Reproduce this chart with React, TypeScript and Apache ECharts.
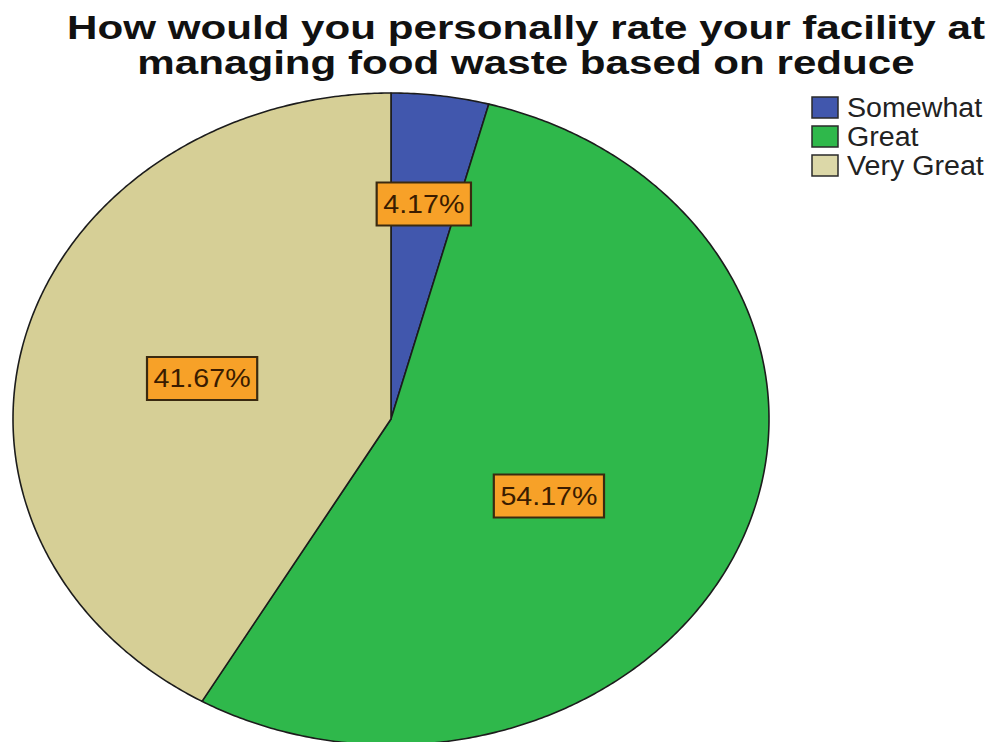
import React, { useEffect, useRef } from "react";
import * as echarts from "echarts";

const TITLE_LINES = [
  "How would you personally rate your facility at",
  "managing food waste based on reduce",
];
const CATEGORIES = ["Somewhat", "Great", "Very Great"];
const COUNTS = [1, 13, 10];
const COLORS = ["#4157ad", "#2fb84b", "#d6cf96"];
const LEGEND_COLORS = ["#4157ad", "#2fb84b", "#dcd8a8"];

// layout constants (ellipse geometry and label placement)
const CX = 391;
const CY = 419;
const RX = 378;
const RY = 326;
const LABEL_PLACEMENT = [
  { f: 0.665, dt: 0 },
  { f: 0.48, dt: 7 },
  { f: 0.515, dt: -1 },
];

export default function App() {
  const ref = useRef<HTMLDivElement>(null);
  useEffect(() => {
    if (!ref.current) return;
    const chart = echarts.init(ref.current, undefined, { renderer: "svg" });
    const total = COUNTS.reduce((a, b) => a + b, 0);
    const starts: number[] = [];
    let acc = 0;
    COUNTS.forEach((c) => {
      starts.push(acc);
      acc += c;
    });
    const pt = (tDeg: number, f = 1) => {
      const t = (tDeg * Math.PI) / 180;
      return [CX + f * RX * Math.sin(t), CY - f * RY * Math.cos(t)];
    };

    const legendGraphics: any[] = [];
    CATEGORIES.forEach((name, i) => {
      const y = 97 + i * 29;
      legendGraphics.push({
        type: "rect",
        shape: { x: 812, y, width: 26, height: 21 },
        style: { fill: LEGEND_COLORS[i], stroke: "#2a2a2a", lineWidth: 1.5 },
      });
      legendGraphics.push({
        type: "text",
        x: 847,
        y: y + 11,
        scaleX: 1.06,
        style: {
          text: name,
          fontFamily: "Liberation Sans, Arial, sans-serif",
          fontSize: 27,
          fill: "#222",
          align: "left",
          verticalAlign: "middle",
        },
      });
    });

    chart.setOption({
      animation: false,
      backgroundColor: "#ffffff",
      graphic: [
        {
          type: "text",
          x: 526,
          y: 10,
          scaleX: 1.24,
          style: {
            text: TITLE_LINES.join("\n"),
            fontFamily: "Liberation Sans, Arial, sans-serif",
            fontWeight: "bold",
            fontSize: 34,
            lineHeight: 35,
            fill: "#111",
            align: "center",
            verticalAlign: "top",
          },
        },
        ...legendGraphics,
      ],
      series: [
        {
          type: "custom",
          coordinateSystem: "none",
          data: COUNTS.map((c, i) => [i, c]),
          renderItem: (params: any, api: any) => {
            const i = params.dataIndex;
            const v = api.value(1);
            const a0 = (starts[i] / total) * 360;
            const a1 = ((starts[i] + v) / total) * 360;
            const points: number[][] = [[CX, CY]];
            const steps = Math.max(2, Math.ceil((a1 - a0) / 0.5));
            for (let k = 0; k <= steps; k++) {
              points.push(pt(a0 + ((a1 - a0) * k) / steps));
            }
            const lp = LABEL_PLACEMENT[i];
            const [lx, ly] = pt((a0 + a1) / 2 + lp.dt, lp.f);
            const pct = ((v / total) * 100).toFixed(2) + "%";
            return {
              type: "group",
              children: [
                {
                  type: "polygon",
                  z2: 1,
                  shape: { points },
                  style: {
                    fill: COLORS[i],
                    stroke: "#1c1c1c",
                    lineWidth: 1.6,
                    lineJoin: "round",
                  },
                },
                {
                  type: "text",
                  z2: 100,
                  x: lx,
                  y: ly,
                  scaleX: 1.1,
                  style: {
                    text: pct,
                    fontFamily: "Liberation Sans, Arial, sans-serif",
                    fontSize: 26,
                    fill: "#3a1c00",
                    align: "center",
                    verticalAlign: "middle",
                    backgroundColor: "#f7a128",
                    borderColor: "#3a2a10",
                    borderWidth: 2,
                    padding: [8, 5, 7, 5],
                  },
                },
              ],
            };
          },
        },
      ],
    });
    return () => chart.dispose();
  }, []);
  return (
    <div
      ref={ref}
      style={{ position: "fixed", left: 0, top: 0, width: 992, height: 742 }}
    />
  );
}
